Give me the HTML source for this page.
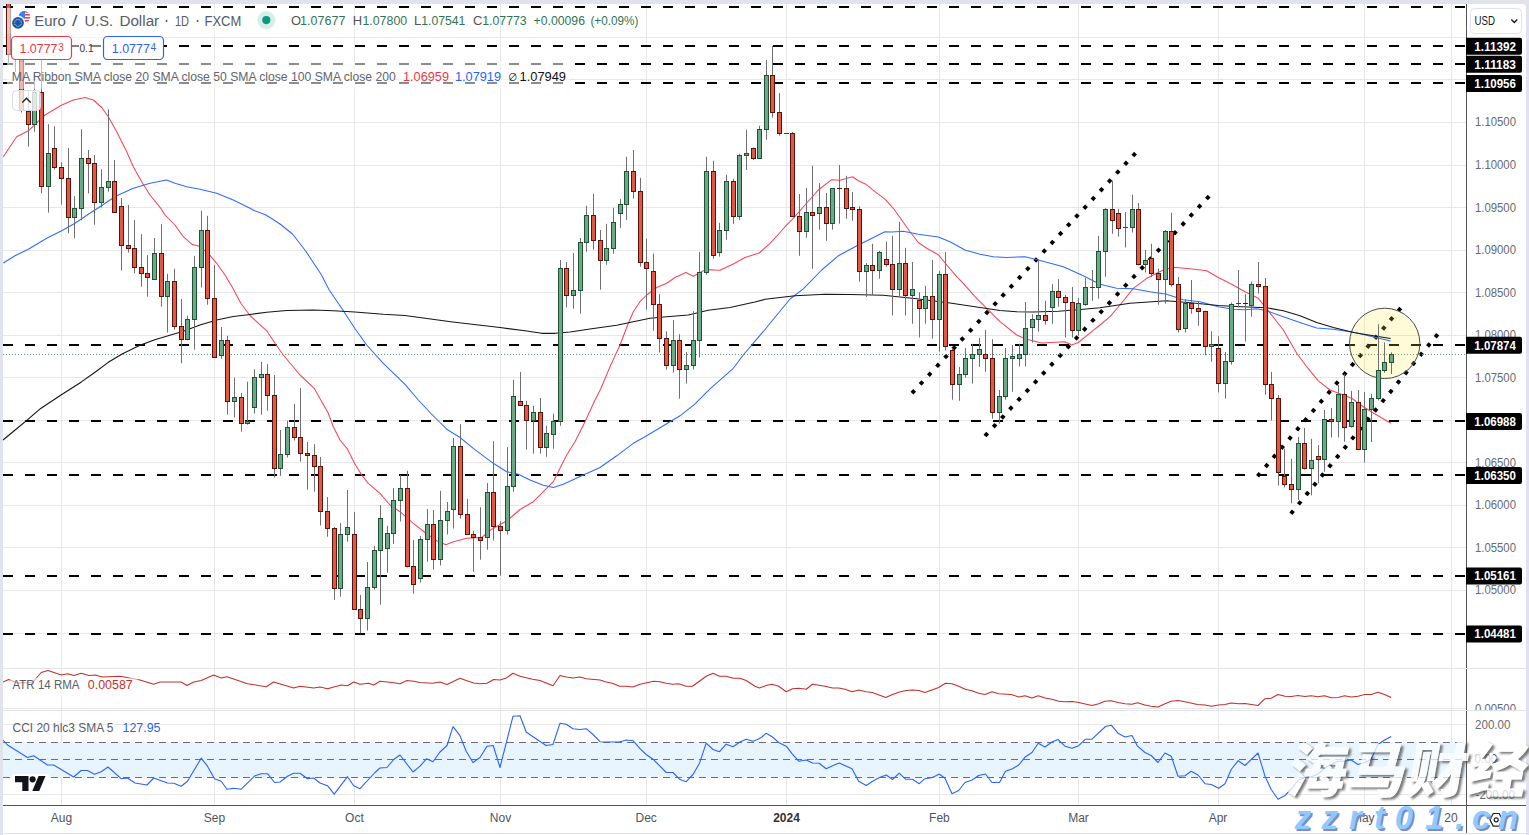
<!DOCTYPE html>
<html lang="en"><head><meta charset="utf-8"><title>EUR/USD Daily Chart</title>
<style>
html,body{margin:0;padding:0;background:#e0e3eb;}
body{width:1529px;height:835px;overflow:hidden;position:relative;font-family:"Liberation Sans","Noto Sans CJK SC",sans-serif;}
svg{position:absolute;left:0;top:0;display:block;}
text{font-family:"Liberation Sans","Noto Sans CJK SC",sans-serif;}
</style></head><body>
<svg width="1529" height="835" viewBox="0 0 1529 835">
<path d="M3 835V8a4 4 0 0 1 4 -4H1522a4 4 0 0 1 4 4V835Z" fill="#fff"/>
<defs><clipPath id="cp"><rect x="3" y="4" width="1463" height="801"/></clipPath>
<clipPath id="cpm"><rect x="3" y="4" width="1463" height="664"/></clipPath></defs>
<path d="M61.5 4V805M214.5 4V805M354.5 4V805M500.5 4V805M646.5 4V805M786.5 4V805M939.5 4V805M1078.5 4V805M1218.5 4V805M1364.5 4V805M1451.5 4V805M3 37.5H1466M3 79.5H1466M3 122.5H1466M3 165.5H1466M3 207.5H1466M3 250.5H1466M3 292.5H1466M3 335.5H1466M3 377.5H1466M3 420.5H1466M3 462.5H1466M3 505.5H1466M3 547.5H1466M3 590.5H1466M3 633.5H1466M3 724.5H1466M3 794.5H1466" stroke="#e7e7e8" stroke-width="1" fill="none"/>
<path d="M3 708.5H1466" stroke="#e7e7e8" stroke-width="1" fill="none"/>
<path d="M3 668.5H1526M3 710.5H1526" stroke="#e0e3eb" stroke-width="1" fill="none"/>
<rect x="3" y="742.5" width="1463" height="35" fill="#e8f4fe"/>
<path d="M3 742.5H1466 M3 759.5H1466 M3 777.5H1466" stroke="#6b6e76" stroke-width="1" stroke-dasharray="7 5" fill="none"/>
<g clip-path="url(#cp)">
<path d="M3 7H1466M3 46H1466M3 64H1466M3 83H1466M3 345H1466M3 421H1466M3 475H1466M3 576H1466M3 634H1466" stroke="#000" stroke-width="2.1" stroke-dasharray="10 12" fill="none"/>
<g fill="#000">
<rect x="911.3" y="389.8" width="3.9" height="3.9" transform="rotate(-47.0 913.3 391.7)"/><rect x="919.5" y="381.0" width="3.9" height="3.9" transform="rotate(-47.0 921.5 382.9)"/><rect x="927.7" y="372.2" width="3.9" height="3.9" transform="rotate(-47.0 929.7 374.1)"/><rect x="935.9" y="363.4" width="3.9" height="3.9" transform="rotate(-47.0 937.8 365.3)"/><rect x="944.1" y="354.6" width="3.9" height="3.9" transform="rotate(-47.0 946.0 356.6)"/><rect x="952.3" y="345.8" width="3.9" height="3.9" transform="rotate(-47.0 954.2 347.8)"/><rect x="960.4" y="337.0" width="3.9" height="3.9" transform="rotate(-47.0 962.4 339.0)"/><rect x="968.6" y="328.3" width="3.9" height="3.9" transform="rotate(-47.0 970.6 330.2)"/><rect x="976.8" y="319.5" width="3.9" height="3.9" transform="rotate(-47.0 978.8 321.4)"/><rect x="985.0" y="310.7" width="3.9" height="3.9" transform="rotate(-47.0 986.9 312.6)"/><rect x="993.2" y="301.9" width="3.9" height="3.9" transform="rotate(-47.0 995.1 303.8)"/><rect x="1001.3" y="293.1" width="3.9" height="3.9" transform="rotate(-47.0 1003.3 295.1)"/><rect x="1009.5" y="284.3" width="3.9" height="3.9" transform="rotate(-47.0 1011.5 286.3)"/><rect x="1017.7" y="275.5" width="3.9" height="3.9" transform="rotate(-47.0 1019.7 277.5)"/><rect x="1025.9" y="266.8" width="3.9" height="3.9" transform="rotate(-47.0 1027.8 268.7)"/><rect x="1034.1" y="258.0" width="3.9" height="3.9" transform="rotate(-47.0 1036.0 259.9)"/><rect x="1042.3" y="249.2" width="3.9" height="3.9" transform="rotate(-47.0 1044.2 251.1)"/><rect x="1050.4" y="240.4" width="3.9" height="3.9" transform="rotate(-47.0 1052.4 242.4)"/><rect x="1058.6" y="231.6" width="3.9" height="3.9" transform="rotate(-47.0 1060.6 233.6)"/><rect x="1066.8" y="222.8" width="3.9" height="3.9" transform="rotate(-47.0 1068.7 224.8)"/><rect x="1075.0" y="214.0" width="3.9" height="3.9" transform="rotate(-47.0 1076.9 216.0)"/><rect x="1083.2" y="205.3" width="3.9" height="3.9" transform="rotate(-47.0 1085.1 207.2)"/><rect x="1091.3" y="196.5" width="3.9" height="3.9" transform="rotate(-47.0 1093.3 198.4)"/><rect x="1099.5" y="187.7" width="3.9" height="3.9" transform="rotate(-47.0 1101.5 189.6)"/><rect x="1107.7" y="178.9" width="3.9" height="3.9" transform="rotate(-47.0 1109.7 180.9)"/><rect x="1115.9" y="170.1" width="3.9" height="3.9" transform="rotate(-47.0 1117.8 172.1)"/><rect x="1124.1" y="161.3" width="3.9" height="3.9" transform="rotate(-47.0 1126.0 163.3)"/><rect x="1132.2" y="152.6" width="3.9" height="3.9" transform="rotate(-47.0 1134.2 154.5)"/>
<rect x="984.3" y="432.6" width="3.9" height="3.9" transform="rotate(-46.9 986.3 434.5)"/><rect x="992.6" y="423.8" width="3.9" height="3.9" transform="rotate(-46.9 994.5 425.7)"/><rect x="1000.8" y="415.0" width="3.9" height="3.9" transform="rotate(-46.9 1002.7 416.9)"/><rect x="1009.0" y="406.2" width="3.9" height="3.9" transform="rotate(-46.9 1010.9 408.2)"/><rect x="1017.2" y="397.4" width="3.9" height="3.9" transform="rotate(-46.9 1019.1 399.4)"/><rect x="1025.4" y="388.7" width="3.9" height="3.9" transform="rotate(-46.9 1027.3 390.6)"/><rect x="1033.6" y="379.9" width="3.9" height="3.9" transform="rotate(-46.9 1035.5 381.8)"/><rect x="1041.8" y="371.1" width="3.9" height="3.9" transform="rotate(-46.9 1043.7 373.1)"/><rect x="1050.0" y="362.3" width="3.9" height="3.9" transform="rotate(-46.9 1051.9 364.3)"/><rect x="1058.2" y="353.6" width="3.9" height="3.9" transform="rotate(-46.9 1060.1 355.5)"/><rect x="1066.4" y="344.8" width="3.9" height="3.9" transform="rotate(-46.9 1068.3 346.7)"/><rect x="1074.6" y="336.0" width="3.9" height="3.9" transform="rotate(-46.9 1076.5 337.9)"/><rect x="1082.8" y="327.2" width="3.9" height="3.9" transform="rotate(-46.9 1084.7 329.2)"/><rect x="1091.0" y="318.4" width="3.9" height="3.9" transform="rotate(-46.9 1092.9 320.4)"/><rect x="1099.2" y="309.7" width="3.9" height="3.9" transform="rotate(-46.9 1101.2 311.6)"/><rect x="1107.4" y="300.9" width="3.9" height="3.9" transform="rotate(-46.9 1109.4 302.8)"/><rect x="1115.6" y="292.1" width="3.9" height="3.9" transform="rotate(-46.9 1117.6 294.1)"/><rect x="1123.8" y="283.3" width="3.9" height="3.9" transform="rotate(-46.9 1125.8 285.3)"/><rect x="1132.0" y="274.6" width="3.9" height="3.9" transform="rotate(-46.9 1134.0 276.5)"/><rect x="1140.2" y="265.8" width="3.9" height="3.9" transform="rotate(-46.9 1142.2 267.7)"/><rect x="1148.4" y="257.0" width="3.9" height="3.9" transform="rotate(-46.9 1150.4 258.9)"/><rect x="1156.6" y="248.2" width="3.9" height="3.9" transform="rotate(-46.9 1158.6 250.2)"/><rect x="1164.8" y="239.4" width="3.9" height="3.9" transform="rotate(-46.9 1166.8 241.4)"/><rect x="1173.0" y="230.7" width="3.9" height="3.9" transform="rotate(-46.9 1175.0 232.6)"/><rect x="1181.2" y="221.9" width="3.9" height="3.9" transform="rotate(-46.9 1183.2 223.8)"/><rect x="1189.4" y="213.1" width="3.9" height="3.9" transform="rotate(-46.9 1191.4 215.1)"/><rect x="1197.6" y="204.3" width="3.9" height="3.9" transform="rotate(-46.9 1199.6 206.3)"/><rect x="1205.8" y="195.6" width="3.9" height="3.9" transform="rotate(-46.9 1207.8 197.5)"/>
<rect x="1256.8" y="472.8" width="3.9" height="3.9" transform="rotate(-49.6 1258.8 474.7)"/><rect x="1264.7" y="463.6" width="3.9" height="3.9" transform="rotate(-49.6 1266.6 465.5)"/><rect x="1272.5" y="454.4" width="3.9" height="3.9" transform="rotate(-49.6 1274.4 456.4)"/><rect x="1280.3" y="445.2" width="3.9" height="3.9" transform="rotate(-49.6 1282.2 447.2)"/><rect x="1288.1" y="436.1" width="3.9" height="3.9" transform="rotate(-49.6 1290.0 438.0)"/><rect x="1295.9" y="426.9" width="3.9" height="3.9" transform="rotate(-49.6 1297.9 428.8)"/><rect x="1303.7" y="417.7" width="3.9" height="3.9" transform="rotate(-49.6 1305.7 419.7)"/><rect x="1311.5" y="408.5" width="3.9" height="3.9" transform="rotate(-49.6 1313.5 410.5)"/><rect x="1319.3" y="399.4" width="3.9" height="3.9" transform="rotate(-49.6 1321.3 401.3)"/><rect x="1327.1" y="390.2" width="3.9" height="3.9" transform="rotate(-49.6 1329.1 392.1)"/><rect x="1335.0" y="381.0" width="3.9" height="3.9" transform="rotate(-49.6 1336.9 383.0)"/><rect x="1342.8" y="371.9" width="3.9" height="3.9" transform="rotate(-49.6 1344.7 373.8)"/><rect x="1350.6" y="362.7" width="3.9" height="3.9" transform="rotate(-49.6 1352.5 364.6)"/><rect x="1358.4" y="353.5" width="3.9" height="3.9" transform="rotate(-49.6 1360.3 355.5)"/><rect x="1366.2" y="344.3" width="3.9" height="3.9" transform="rotate(-49.6 1368.2 346.3)"/><rect x="1374.0" y="335.2" width="3.9" height="3.9" transform="rotate(-49.6 1376.0 337.1)"/><rect x="1381.8" y="326.0" width="3.9" height="3.9" transform="rotate(-49.6 1383.8 327.9)"/><rect x="1389.6" y="316.8" width="3.9" height="3.9" transform="rotate(-49.6 1391.6 318.8)"/><rect x="1397.5" y="307.7" width="3.9" height="3.9" transform="rotate(-49.6 1399.4 309.6)"/>
<rect x="1290.1" y="510.2" width="3.9" height="3.9" transform="rotate(-50.7 1292.1 512.1)"/><rect x="1297.7" y="500.9" width="3.9" height="3.9" transform="rotate(-50.7 1299.7 502.8)"/><rect x="1305.3" y="491.6" width="3.9" height="3.9" transform="rotate(-50.7 1307.3 493.5)"/><rect x="1312.9" y="482.3" width="3.9" height="3.9" transform="rotate(-50.7 1314.9 484.2)"/><rect x="1320.5" y="473.0" width="3.9" height="3.9" transform="rotate(-50.7 1322.5 475.0)"/><rect x="1328.1" y="463.7" width="3.9" height="3.9" transform="rotate(-50.7 1330.1 465.7)"/><rect x="1335.7" y="454.4" width="3.9" height="3.9" transform="rotate(-50.7 1337.7 456.4)"/><rect x="1343.3" y="445.2" width="3.9" height="3.9" transform="rotate(-50.7 1345.3 447.1)"/><rect x="1350.9" y="435.9" width="3.9" height="3.9" transform="rotate(-50.7 1352.9 437.8)"/><rect x="1358.5" y="426.6" width="3.9" height="3.9" transform="rotate(-50.7 1360.5 428.5)"/><rect x="1366.1" y="417.3" width="3.9" height="3.9" transform="rotate(-50.7 1368.0 419.3)"/><rect x="1373.7" y="408.0" width="3.9" height="3.9" transform="rotate(-50.7 1375.6 410.0)"/><rect x="1381.3" y="398.7" width="3.9" height="3.9" transform="rotate(-50.7 1383.2 400.7)"/><rect x="1388.9" y="389.5" width="3.9" height="3.9" transform="rotate(-50.7 1390.8 391.4)"/><rect x="1396.5" y="380.2" width="3.9" height="3.9" transform="rotate(-50.7 1398.4 382.1)"/><rect x="1404.1" y="370.9" width="3.9" height="3.9" transform="rotate(-50.7 1406.0 372.8)"/><rect x="1411.7" y="361.6" width="3.9" height="3.9" transform="rotate(-50.7 1413.6 363.6)"/><rect x="1419.3" y="352.3" width="3.9" height="3.9" transform="rotate(-50.7 1421.2 354.3)"/><rect x="1426.9" y="343.0" width="3.9" height="3.9" transform="rotate(-50.7 1428.8 345.0)"/><rect x="1434.5" y="333.8" width="3.9" height="3.9" transform="rotate(-50.7 1436.4 335.7)"/>
</g>
<path d="M3 354.5H1466" stroke="#5d9c7b" stroke-width="1" stroke-dasharray="1 2" fill="none"/>
<circle cx="1384.7" cy="343.4" r="35.2" fill="rgba(255,235,59,0.2)" stroke="#4a4a4a" stroke-width="1"/>
<path d="M3.3 156.7L16.7 136.7L28.3 130.8L45.0 115.0L61.3 105.3L73.3 100.0L85.0 97.5L93.3 100.0L101.7 107.5L108.3 116.7L116.7 131.7L126.7 151.7L133.3 166.7L141.7 181.7L150.0 195.0L160.8 208.3L165.0 215.0L175.0 225.0L183.3 236.7L191.7 244.2L199.2 246.3L208.3 253.3L216.7 263.3L225.0 275.0L233.3 289.0L240.8 303.3L250.0 315.5L266.7 330.8L275.0 343.3L283.3 355.0L291.7 365.0L300.0 375.0L314.2 388.3L320.8 400.0L328.3 413.3L333.3 426.7L340.0 440.0L347.5 449.2L354.5 463.3L361.7 475.0L368.3 483.3L380.0 493.3L390.0 505.0L400.0 511.7L413.3 523.3L425.0 532.5L436.7 540.8L445.8 544.7L453.3 541.7L466.7 538.3L481.7 537.5L491.7 529.2L505.0 521.7L512.0 516.5L520.0 509.5L533.3 501.7L543.3 491.7L553.3 481.7L560.0 468.3L566.7 455.0L575.0 441.7L585.0 421.7L595.0 400.0L600.8 388.8L610.0 366.7L620.0 345.0L628.3 323.3L633.3 311.7L640.0 301.7L646.7 295.0L656.7 287.5L666.7 283.3L675.0 277.5L685.8 272.5L693.3 276.3L703.3 270.8L710.0 269.7L720.0 270.3L733.3 264.0L745.0 257.5L759.2 253.0L770.0 243.3L780.0 232.5L786.3 225.3L793.3 218.3L805.0 205.0L818.3 190.0L831.7 179.7L840.0 180.3L852.5 176.7L858.3 180.8L865.8 184.2L875.0 191.7L885.0 199.2L893.3 208.3L901.7 220.0L910.0 231.7L918.3 242.5L926.7 248.3L938.3 254.7L946.7 265.0L956.7 276.7L963.3 283.3L975.0 296.7L986.7 308.3L1000.0 321.7L1016.7 335.0L1026.7 339.2L1041.7 343.0L1065.0 341.7L1071.7 345.0L1078.3 342.5L1091.7 331.7L1100.0 325.0L1110.0 316.7L1120.0 305.0L1133.3 288.3L1146.7 278.3L1156.7 273.3L1163.3 270.0L1173.3 267.2L1190.0 268.7L1206.7 270.8L1218.3 277.5L1231.7 284.2L1245.0 291.7L1258.3 298.3L1268.3 310.8L1283.3 330.0L1296.7 353.3L1306.7 366.7L1318.3 380.8L1330.0 390.0L1343.3 395.0L1351.7 398.3L1363.3 406.7L1376.7 415.0L1390.8 423.3" stroke="#f5475a" stroke-width="1.05" fill="none" stroke-linejoin="round"/>
<path d="M3.3 263.0L15.0 255.8L28.3 249.2L46.7 238.3L61.7 230.8L75.0 223.3L88.3 214.2L100.0 206.7L110.0 200.0L116.7 195.8L133.3 188.3L150.0 183.3L166.7 180.0L175.0 183.3L186.7 186.7L200.0 189.2L216.7 193.3L233.3 200.0L250.0 208.3L254.0 210.5L266.0 215.0L280.0 224.0L292.5 234.0L305.7 251.0L321.5 275.0L329.2 290.0L341.7 308.3L354.7 328.3L366.7 345.0L383.3 363.3L404.8 384.2L418.3 400.0L430.0 412.5L440.0 422.5L446.7 429.2L460.0 437.5L473.3 448.3L493.3 463.3L506.7 471.7L518.3 474.2L530.0 480.0L543.3 485.3L553.3 487.5L563.3 484.2L583.3 475.0L600.0 467.5L616.7 455.8L633.3 443.3L646.7 435.8L663.3 425.8L680.0 415.8L694.8 404.2L710.0 388.8L733.3 368.3L743.3 355.0L754.8 341.3L765.0 329.5L790.0 299.0L803.3 288.8L821.7 270.0L838.3 255.8L855.0 246.7L870.0 239.2L885.0 231.7L891.7 232.0L903.3 231.2L918.3 234.2L938.3 237.0L950.0 241.7L965.0 250.0L980.0 254.2L993.3 256.7L1006.7 257.5L1025.0 256.7L1038.3 260.0L1063.3 266.7L1083.3 275.8L1100.0 284.2L1116.7 288.3L1133.3 288.7L1150.0 291.7L1166.7 294.2L1183.3 299.7L1200.0 301.7L1218.3 306.7L1233.3 309.2L1245.0 309.7L1256.7 308.8L1266.7 310.8L1283.3 316.7L1300.0 322.5L1316.7 328.0L1333.3 329.2L1354.8 332.5L1390.6 341.1" stroke="#2f6bff" stroke-width="1.05" fill="none" stroke-linejoin="round"/>
<path d="M3.0 440.0L14.2 430.7L26.5 420.6L40.7 408.4L61.0 395.1L81.4 381.9L95.7 371.7L107.9 362.6L122.1 354.0L138.4 345.9L154.7 339.8L169.0 335.5L183.3 331.3L200.0 325.0L216.7 320.0L233.3 316.5L250.0 314.5L266.7 312.2L286.7 310.5L313.3 310.0L333.3 310.8L354.7 312.0L383.3 314.3L404.8 315.5L452.7 322.0L500.0 327.5L525.0 330.8L541.7 333.3L555.0 333.3L570.0 332.0L591.7 328.7L616.7 325.3L633.3 321.7L650.0 318.3L666.7 316.7L688.3 315.0L708.3 310.3L730.0 307.5L754.8 302.0L765.0 299.3L795.0 295.8L825.4 294.3L850.0 294.5L883.3 295.3L916.7 298.7L950.0 303.0L983.3 308.0L1000.0 310.5L1016.7 311.7L1033.3 312.0L1058.3 311.3L1083.3 309.2L1100.0 307.8L1130.0 303.3L1166.7 300.8L1193.3 303.0L1218.3 305.5L1241.7 306.7L1266.7 307.8L1283.3 310.8L1300.0 315.8L1316.7 322.5L1333.3 327.5L1354.8 332.8L1390.6 338.5" stroke="#161616" stroke-width="1.15" fill="none" stroke-linejoin="round"/>
<path d="M8.5 -6.0V64.5M15.5 42.0V72.0M21.5 40.0V112.5M28.5 90.6V146.7M34.5 73.0V131.7M41.5 37.0V193.3M48.5 124.2V212.5M54.5 126.3V169.5M61.5 162.2V204.5M68.5 148.0V233.3M74.5 196.2V238.3M81.5 129.2V220.3M88.5 150.0V193.3M94.5 155.0V224.7M101.5 169.2V207.5M108.5 109.2V191.7M114.5 160.0V212.5M121.5 198.0V270.5M128.5 205.0V252.5M134.5 220.0V273.3M141.5 234.2V286.7M147.5 255.0V296.7M154.5 238.0V279.5M161.5 224.2V306.7M167.5 273.8V332.5M174.5 268.8V329.7M181.5 299.0V363.3M187.5 315.8V340.3M194.5 255.8V349.7M201.5 210.8V287.5M207.5 215.8V304.7M214.5 265.0V357.5M221.5 327.0V358.7M227.5 335.8V414.7M234.5 377.8V417.5M241.5 393.0V431.7M247.5 381.7V424.7M254.5 369.2V413.7M261.5 362.0V414.7M267.5 364.2V410.8M274.5 375.0V477.5M280.5 430.0V475.8M287.5 420.8V457.5M294.5 404.0V440.5M300.5 388.0V461.7M307.5 442.0V489.7M314.5 444.2V491.7M320.5 457.0V525.5M327.5 497.0V536.7M334.5 527.0V599.7M340.5 523.0V596.7M347.5 490.0V541.7M354.5 512.0V609.5M360.5 595.0V633.3M367.5 562.0V630.5M374.5 545.8V589.7M380.5 505.0V604.7M387.5 525.8V572.8M393.5 488.0V543.8M400.5 475.0V521.5M407.5 470.8V567.5M413.5 540.0V593.7M420.5 535.8V582.5M427.5 509.0V561.7M433.5 510.0V569.7M440.5 490.8V565.5M447.5 502.0V534.5M453.5 438.0V528.5M460.5 424.2V518.7M467.5 498.8V535.0M473.5 530.8V571.7M480.5 507.2V559.7M487.5 483.0V549.7M493.5 441.2V540.5M500.5 521.3V575.8M507.5 447.0V534.7M513.5 379.7V491.7M520.5 372.0V405.5M526.5 400.8V449.7M533.5 405.8V453.7M540.5 398.0V453.7M546.5 425.8V456.7M553.5 413.8V448.7M560.5 260.0V425.8M566.5 262.0V307.5M573.5 253.0V308.7M580.5 238.0V313.7M586.5 205.8V251.7M593.5 193.8V249.7M600.5 230.0V289.7M606.5 223.8V264.7M613.5 207.8V253.8M620.5 198.8V227.8M626.5 156.7V220.0M633.5 150.0V198.7M640.5 177.8V266.7M646.5 238.7V309.7M653.5 253.7V330.8M659.5 294.2V352.5M666.5 331.2V369.7M673.5 320.0V372.5M679.5 334.2V398.7M686.5 352.0V383.5M693.5 311.2V369.5M699.5 252.0V357.5M706.5 156.7V274.7M713.5 160.8V258.7M719.5 222.8V256.7M726.5 174.7V239.7M733.5 178.8V223.8M739.5 153.7V220.0M746.5 129.7V170.0M753.5 147.5V159.8M759.5 125.8V158.5M766.5 60.0V139.8M772.5 46.0V117.8M779.5 93.0V135.6M786.5 133.0V134.0M792.5 132.0V216.5M799.5 194.0V255.8M806.5 188.0V237.8M812.5 165.8V268.8M819.5 183.0V229.7M826.5 193.0V240.8M832.5 188.3V229.7M839.5 165.0V223.7M846.5 175.8V218.8M852.5 192.0V220.8M859.5 206.2V281.7M866.5 263.0V297.0M872.5 243.8V295.0M879.5 250.8V278.7M886.5 241.7V266.7M892.5 235.8V315.5M899.5 222.0V296.7M905.5 247.8V315.5M912.5 262.0V323.7M919.5 292.2V337.5M925.5 285.8V323.7M932.5 260.0V338.7M939.5 270.8V351.7M945.5 252.0V350.5M952.5 348.3V399.7M959.5 367.0V400.8M965.5 348.0V377.7M972.5 343.8V383.6M979.5 338.0V366.9M985.5 330.0V371.7M992.5 339.2V418.7M999.5 390.0V423.7M1005.5 348.0V399.7M1012.5 345.0V391.7M1019.5 343.8V366.5M1025.5 302.0V366.5M1032.5 314.2V342.5M1038.5 260.3V331.7M1045.5 300.8V324.7M1052.5 284.2V323.7M1058.5 279.2V306.7M1065.5 295.0V337.5M1072.5 287.0V337.5M1078.5 298.0V335.8M1085.5 278.0V305.8M1092.5 270.0V300.8M1098.5 235.8V298.7M1105.5 208.0V276.7M1112.5 180.8V233.8M1118.5 208.8V236.7M1125.5 212.0V247.5M1132.5 194.7V232.5M1138.5 203.0V265.3M1145.5 250.0V272.5M1151.5 243.8V277.0M1158.5 268.7V304.7M1165.5 230.0V303.7M1171.5 212.8V286.7M1178.5 277.0V332.5M1185.5 299.2V332.5M1191.5 280.0V313.7M1198.5 301.3V325.8M1205.5 310.8V355.3M1211.5 331.2V361.7M1218.5 336.2V392.5M1225.5 352.0V398.7M1231.5 302.5V364.7M1238.5 270.0V307.5M1245.5 294.2V341.7M1251.5 281.7V316.7M1258.5 262.0V293.7M1265.5 278.0V394.7M1271.5 372.0V420.5M1278.5 395.0V485.5M1284.5 448.7V487.5M1291.5 458.8V503.3M1298.5 437.0V500.0M1304.5 428.0V469.5M1311.5 438.8V495.3M1318.5 445.0V483.3M1324.5 410.0V471.7M1331.5 408.0V437.5M1338.5 385.0V437.5M1344.5 374.2V441.7M1351.5 390.8V427.5M1358.5 390.0V449.5M1364.5 392.0V462.5M1371.5 393.8V442.0M1378.5 324.2V400.4M1384.5 342.4V372.7M1391.5 352.3V373.8" stroke="#707074" stroke-width="1" fill="none"/>
<g fill="#6caa87" stroke="#1e5235" stroke-width="1"><rect x="32.5" y="92.5" width="4" height="32"/><rect x="46.5" y="153.5" width="4" height="33"/><rect x="72.5" y="208.5" width="4" height="9"/><rect x="79.5" y="158.5" width="4" height="50"/><rect x="99.5" y="187.5" width="4" height="15"/><rect x="106.5" y="181.5" width="4" height="6"/><rect x="152.5" y="253.5" width="4" height="26"/><rect x="165.5" y="281.5" width="4" height="15"/><rect x="185.5" y="319.5" width="4" height="20"/><rect x="192.5" y="267.5" width="4" height="52"/><rect x="199.5" y="230.5" width="4" height="37"/><rect x="219.5" y="340.5" width="4" height="15"/><rect x="232.5" y="397.5" width="4" height="4"/><rect x="245.5" y="421.5" width="4" height="2"/><rect x="252.5" y="377.5" width="4" height="30"/><rect x="259.5" y="374.5" width="4" height="3"/><rect x="278.5" y="454.5" width="4" height="14"/><rect x="285.5" y="427.5" width="4" height="27"/><rect x="338.5" y="534.5" width="4" height="54"/><rect x="345.5" y="527.5" width="4" height="7"/><rect x="365.5" y="587.5" width="4" height="31"/><rect x="372.5" y="550.5" width="4" height="37"/><rect x="378.5" y="518.5" width="4" height="32"/><rect x="385.5" y="533.5" width="4" height="15"/><rect x="391.5" y="500.5" width="4" height="33"/><rect x="398.5" y="488.5" width="4" height="12"/><rect x="418.5" y="539.5" width="4" height="39"/><rect x="425.5" y="524.5" width="4" height="15"/><rect x="438.5" y="520.5" width="4" height="39"/><rect x="445.5" y="511.5" width="4" height="9"/><rect x="451.5" y="446.5" width="4" height="63"/><rect x="485.5" y="492.5" width="4" height="45"/><rect x="505.5" y="486.5" width="4" height="44"/><rect x="511.5" y="396.5" width="4" height="90"/><rect x="531.5" y="412.5" width="4" height="8"/><rect x="544.5" y="433.5" width="4" height="14"/><rect x="551.5" y="421.5" width="4" height="13"/><rect x="558.5" y="268.5" width="4" height="153"/><rect x="571.5" y="290.5" width="4" height="5"/><rect x="578.5" y="242.5" width="4" height="48"/><rect x="584.5" y="215.5" width="4" height="27"/><rect x="604.5" y="248.5" width="4" height="12"/><rect x="611.5" y="222.5" width="4" height="26"/><rect x="618.5" y="204.5" width="4" height="9"/><rect x="624.5" y="171.5" width="4" height="33"/><rect x="671.5" y="340.5" width="4" height="25"/><rect x="684.5" y="365.5" width="4" height="4"/><rect x="691.5" y="340.5" width="4" height="25"/><rect x="697.5" y="272.5" width="4" height="68"/><rect x="704.5" y="171.5" width="4" height="101"/><rect x="717.5" y="230.5" width="4" height="22"/><rect x="724.5" y="181.5" width="4" height="49"/><rect x="737.5" y="155.5" width="4" height="61"/><rect x="744.5" y="153.5" width="4" height="2"/><rect x="757.5" y="129.5" width="4" height="29"/><rect x="764.5" y="75.5" width="4" height="54"/><rect x="804.5" y="212.5" width="4" height="19"/><rect x="817.5" y="207.5" width="4" height="6"/><rect x="830.5" y="188.5" width="4" height="35"/><rect x="864.5" y="265.5" width="4" height="6"/><rect x="877.5" y="252.5" width="4" height="18"/><rect x="897.5" y="263.5" width="4" height="26"/><rect x="910.5" y="289.5" width="4" height="6"/><rect x="923.5" y="296.5" width="4" height="12"/><rect x="937.5" y="274.5" width="4" height="45"/><rect x="957.5" y="374.5" width="4" height="10"/><rect x="963.5" y="358.5" width="4" height="16"/><rect x="970.5" y="354.5" width="4" height="4"/><rect x="977.5" y="349.5" width="4" height="5"/><rect x="997.5" y="396.5" width="4" height="16"/><rect x="1003.5" y="358.5" width="4" height="38"/><rect x="1010.5" y="356.5" width="4" height="2"/><rect x="1017.5" y="354.5" width="4" height="4"/><rect x="1023.5" y="328.5" width="4" height="26"/><rect x="1030.5" y="319.5" width="4" height="8"/><rect x="1036.5" y="315.5" width="4" height="4"/><rect x="1050.5" y="291.5" width="4" height="16"/><rect x="1076.5" y="303.5" width="4" height="27"/><rect x="1083.5" y="287.5" width="4" height="17"/><rect x="1096.5" y="251.5" width="4" height="36"/><rect x="1103.5" y="209.5" width="4" height="42"/><rect x="1130.5" y="209.5" width="4" height="18"/><rect x="1143.5" y="260.5" width="4" height="4"/><rect x="1163.5" y="231.5" width="4" height="48"/><rect x="1183.5" y="303.5" width="4" height="25"/><rect x="1209.5" y="344.5" width="4" height="2"/><rect x="1223.5" y="361.5" width="4" height="22"/><rect x="1229.5" y="304.5" width="4" height="57"/><rect x="1249.5" y="284.5" width="4" height="21"/><rect x="1296.5" y="443.5" width="4" height="46"/><rect x="1309.5" y="460.5" width="4" height="8"/><rect x="1322.5" y="419.5" width="4" height="40"/><rect x="1336.5" y="394.5" width="4" height="27"/><rect x="1349.5" y="402.5" width="4" height="24"/><rect x="1362.5" y="409.5" width="4" height="40"/><rect x="1369.5" y="398.5" width="4" height="11"/><rect x="1376.5" y="370.5" width="4" height="28"/><rect x="1382.5" y="362.5" width="4" height="8"/><rect x="1389.5" y="354.5" width="4" height="8"/></g>
<g fill="#e05846" stroke="#5c120b" stroke-width="1"><rect x="6.5" y="-5.5" width="4" height="60"/><rect x="13.5" y="55.5" width="4" height="3"/><rect x="19.5" y="59.5" width="4" height="51"/><rect x="26.5" y="111.5" width="4" height="13"/><rect x="39.5" y="92.5" width="4" height="94"/><rect x="52.5" y="148.5" width="4" height="19"/><rect x="59.5" y="167.5" width="4" height="11"/><rect x="66.5" y="178.5" width="4" height="39"/><rect x="86.5" y="158.5" width="4" height="5"/><rect x="92.5" y="163.5" width="4" height="39"/><rect x="112.5" y="181.5" width="4" height="31"/><rect x="119.5" y="206.5" width="4" height="39"/><rect x="126.5" y="245.5" width="4" height="3"/><rect x="132.5" y="248.5" width="4" height="19"/><rect x="139.5" y="267.5" width="4" height="6"/><rect x="145.5" y="273.5" width="4" height="4"/><rect x="159.5" y="253.5" width="4" height="43"/><rect x="172.5" y="281.5" width="4" height="45"/><rect x="179.5" y="326.5" width="4" height="13"/><rect x="205.5" y="230.5" width="4" height="68"/><rect x="212.5" y="298.5" width="4" height="59"/><rect x="225.5" y="340.5" width="4" height="61"/><rect x="239.5" y="397.5" width="4" height="26"/><rect x="265.5" y="374.5" width="4" height="21"/><rect x="272.5" y="395.5" width="4" height="73"/><rect x="292.5" y="427.5" width="4" height="10"/><rect x="298.5" y="437.5" width="4" height="16"/><rect x="305.5" y="453.5" width="4" height="2"/><rect x="312.5" y="455.5" width="4" height="11"/><rect x="318.5" y="466.5" width="4" height="45"/><rect x="325.5" y="511.5" width="4" height="17"/><rect x="332.5" y="528.5" width="4" height="60"/><rect x="352.5" y="534.5" width="4" height="75"/><rect x="358.5" y="609.5" width="4" height="9"/><rect x="405.5" y="488.5" width="4" height="78"/><rect x="411.5" y="566.5" width="4" height="18"/><rect x="431.5" y="524.5" width="4" height="35"/><rect x="458.5" y="446.5" width="4" height="68"/><rect x="465.5" y="514.5" width="4" height="20"/><rect x="471.5" y="534.5" width="4" height="3"/><rect x="478.5" y="537.5" width="4" height="3"/><rect x="491.5" y="492.5" width="4" height="34"/><rect x="498.5" y="526.5" width="4" height="4"/><rect x="518.5" y="401.5" width="4" height="4"/><rect x="524.5" y="405.5" width="4" height="15"/><rect x="538.5" y="412.5" width="4" height="35"/><rect x="564.5" y="268.5" width="4" height="27"/><rect x="591.5" y="215.5" width="4" height="25"/><rect x="598.5" y="240.5" width="4" height="20"/><rect x="631.5" y="171.5" width="4" height="20"/><rect x="638.5" y="191.5" width="4" height="71"/><rect x="644.5" y="262.5" width="4" height="6"/><rect x="651.5" y="271.5" width="4" height="33"/><rect x="657.5" y="304.5" width="4" height="34"/><rect x="664.5" y="338.5" width="4" height="27"/><rect x="677.5" y="340.5" width="4" height="29"/><rect x="711.5" y="171.5" width="4" height="84"/><rect x="731.5" y="181.5" width="4" height="35"/><rect x="751.5" y="148.5" width="4" height="10"/><rect x="770.5" y="75.5" width="4" height="37"/><rect x="777.5" y="112.5" width="4" height="21"/><rect x="790.5" y="133.5" width="4" height="83"/><rect x="797.5" y="216.5" width="4" height="15"/><rect x="810.5" y="212.5" width="4" height="3"/><rect x="824.5" y="207.5" width="4" height="16"/><rect x="844.5" y="188.5" width="4" height="20"/><rect x="850.5" y="207.5" width="4" height="2"/><rect x="857.5" y="209.5" width="4" height="62"/><rect x="870.5" y="265.5" width="4" height="5"/><rect x="884.5" y="259.5" width="4" height="5"/><rect x="890.5" y="264.5" width="4" height="25"/><rect x="903.5" y="263.5" width="4" height="32"/><rect x="917.5" y="300.5" width="4" height="8"/><rect x="930.5" y="296.5" width="4" height="23"/><rect x="943.5" y="274.5" width="4" height="72"/><rect x="950.5" y="350.5" width="4" height="34"/><rect x="983.5" y="354.5" width="4" height="4"/><rect x="990.5" y="358.5" width="4" height="54"/><rect x="1043.5" y="315.5" width="4" height="5"/><rect x="1056.5" y="291.5" width="4" height="6"/><rect x="1063.5" y="297.5" width="4" height="5"/><rect x="1070.5" y="302.5" width="4" height="28"/><rect x="1110.5" y="209.5" width="4" height="11"/><rect x="1116.5" y="213.5" width="4" height="15"/><rect x="1136.5" y="209.5" width="4" height="55"/><rect x="1149.5" y="258.5" width="4" height="15"/><rect x="1156.5" y="273.5" width="4" height="6"/><rect x="1169.5" y="231.5" width="4" height="53"/><rect x="1176.5" y="284.5" width="4" height="45"/><rect x="1189.5" y="303.5" width="4" height="5"/><rect x="1196.5" y="308.5" width="4" height="3"/><rect x="1203.5" y="311.5" width="4" height="35"/><rect x="1216.5" y="348.5" width="4" height="35"/><rect x="1256.5" y="284.5" width="4" height="2"/><rect x="1263.5" y="286.5" width="4" height="98"/><rect x="1269.5" y="384.5" width="4" height="14"/><rect x="1276.5" y="398.5" width="4" height="74"/><rect x="1282.5" y="476.5" width="4" height="8"/><rect x="1289.5" y="484.5" width="4" height="5"/><rect x="1302.5" y="443.5" width="4" height="25"/><rect x="1316.5" y="456.5" width="4" height="3"/><rect x="1329.5" y="419.5" width="4" height="2"/><rect x="1342.5" y="394.5" width="4" height="33"/><rect x="1356.5" y="402.5" width="4" height="47"/></g>
<path d="M784 133.5H789M1090 287.5H1095M1123 227.5H1128M1236 303.5H1241" stroke="#1e5235" stroke-width="1" fill="none"/>
<path d="M837 188.5H842M1243 303.5H1248" stroke="#5c120b" stroke-width="1" fill="none"/>
<path d="M3.0 682.0L8.7 679.5L17.5 683.0L32.5 682.5L41.2 672.5L48.0 670.5L61.2 675.0L67.5 673.7L73.7 675.5L81.2 673.2L88.7 675.5L95.0 675.0L102.5 677.0L120.0 676.2L140.0 680.0L153.7 684.2L160.0 682.0L181.2 682.0L187.0 685.5L193.7 682.0L201.2 680.5L213.7 675.0L221.2 678.0L227.0 676.7L247.5 683.7L266.2 686.7L273.7 682.0L293.7 688.0L300.0 686.2L313.7 688.0L320.0 687.0L327.5 688.7L341.2 685.0L347.5 685.7L353.7 682.0L360.0 684.2L368.7 683.2L373.7 685.0L380.0 681.2L392.5 682.5L400.0 683.7L407.0 680.5L413.7 681.2L420.0 682.5L432.5 683.2L440.0 682.0L447.0 684.5L460.0 678.2L466.2 680.5L473.7 683.0L480.0 683.7L487.0 683.2L493.7 679.5L500.0 680.0L506.2 678.0L513.0 673.2L520.0 676.2L532.5 679.2L540.0 680.5L553.0 685.7L560.0 675.5L566.2 677.0L573.0 678.0L580.0 677.0L586.2 678.7L600.0 680.0L606.2 682.0L612.5 683.2L619.5 686.2L626.2 686.2L633.0 687.0L640.0 684.2L653.7 681.2L660.0 681.7L666.2 683.2L672.5 684.2L678.7 683.7L686.2 686.2L692.5 686.2L706.2 676.2L713.0 673.2L719.5 676.2L726.2 676.2L733.0 678.2L740.0 678.2L746.2 680.5L755.0 686.2L759.5 688.0L762.0 687.0L766.2 685.5L772.0 684.2L778.7 686.2L786.2 691.7L792.5 688.7L798.7 688.2L806.2 689.2L812.5 684.2L825.0 686.2L832.5 688.0L838.7 688.0L845.0 689.2L852.0 691.7L858.7 690.0L866.2 691.7L872.5 692.5L885.7 697.5L892.5 694.5L899.5 692.0L906.2 690.5L912.5 690.0L918.7 690.5L925.0 692.5L938.7 687.5L945.5 683.2L952.0 683.7L958.7 686.2L965.0 689.2L972.0 690.7L978.7 693.2L985.0 694.5L992.0 691.7L998.7 693.7L1011.2 694.5L1018.7 697.0L1025.0 695.7L1032.0 698.0L1038.2 695.7L1045.0 698.0L1052.0 699.2L1058.7 701.2L1065.0 701.7L1072.5 701.5L1078.7 702.5L1092.0 705.5L1098.7 703.7L1105.0 701.2L1111.2 700.7L1118.0 702.5L1125.0 703.7L1132.0 704.2L1137.5 702.7L1145.0 705.0L1151.2 706.2L1158.0 707.0L1165.0 703.7L1171.2 701.2L1178.0 700.5L1185.0 701.7L1197.5 704.5L1205.0 705.0L1211.2 706.2L1218.7 705.0L1225.0 704.5L1231.2 703.0L1238.7 703.7L1245.0 703.5L1258.0 705.5L1265.0 698.7L1271.2 698.2L1278.0 694.5L1285.0 696.2L1291.2 696.5L1298.0 695.5L1305.0 696.5L1311.2 695.7L1318.0 696.7L1324.5 695.7L1331.2 697.7L1338.0 697.5L1344.5 695.7L1351.2 697.0L1358.0 696.2L1364.5 694.5L1371.2 694.5L1378.0 692.2L1384.5 694.5L1391.2 697.5" stroke="#c4302b" stroke-width="1.1" fill="none" stroke-linejoin="round"/>
<path d="M3.0 740.0L7.5 745.0L27.5 757.5L33.7 755.7L47.5 765.0L53.7 765.0L73.7 777.0L81.2 770.5L87.5 770.5L94.5 774.2L101.2 771.7L108.0 767.0L121.2 778.7L127.5 778.0L135.0 783.0L147.0 785.0L153.7 778.0L167.5 783.0L173.7 783.2L181.2 786.2L187.5 781.2L201.2 758.2L207.5 766.2L214.5 778.7L221.2 781.2L227.0 789.2L233.7 788.2L241.2 789.2L255.0 775.7L261.2 773.7L267.5 773.7L274.5 782.5L280.0 782.0L287.5 776.2L293.7 773.2L300.0 773.2L307.5 778.7L313.7 778.0L320.0 783.0L327.5 785.7L334.2 794.2L347.5 776.7L353.7 785.7L360.0 788.7L375.0 772.5L380.0 768.0L387.0 767.5L393.7 759.5L400.0 755.0L413.0 772.0L420.0 766.2L426.7 758.7L433.0 761.7L440.0 752.0L447.0 745.5L453.0 726.7L460.0 735.7L466.2 751.2L473.0 762.5L480.0 757.5L487.0 746.2L493.2 745.5L500.0 767.5L513.0 716.2L520.0 715.7L526.2 732.0L533.0 736.7L546.2 745.5L553.0 744.5L560.0 723.2L566.2 724.2L573.0 728.7L580.0 729.5L586.2 728.7L593.0 734.5L600.0 741.7L612.5 742.0L619.5 742.0L626.2 740.0L633.0 740.7L640.0 748.7L646.2 754.5L653.0 759.2L660.0 766.2L666.2 772.5L673.0 772.5L679.5 779.2L686.2 781.7L693.0 774.5L699.5 763.2L706.2 743.2L713.0 749.5L719.5 751.7L726.2 744.2L733.0 746.7L740.0 742.0L746.2 739.2L753.0 741.2L757.5 739.5L762.0 737.0L766.2 733.2L772.0 736.7L778.7 742.5L786.2 746.2L792.0 753.7L798.7 761.2L806.2 760.0L812.5 763.0L819.2 763.2L826.2 768.7L832.5 765.7L839.2 763.0L852.0 768.7L858.7 781.2L866.2 785.5L872.5 781.2L879.5 777.5L886.2 775.0L892.5 779.5L899.2 773.2L905.5 779.2L912.5 779.2L919.2 783.7L925.0 778.7L932.5 777.5L939.2 774.0L945.0 778.2L952.0 793.7L958.7 790.5L965.0 782.5L972.0 780.0L978.7 775.5L985.5 774.0L992.0 782.5L999.5 782.5L1005.5 771.2L1012.5 768.7L1018.7 765.0L1025.5 756.7L1032.0 752.5L1038.2 743.2L1045.0 747.0L1052.0 742.0L1058.0 739.5L1065.0 746.2L1072.0 748.2L1078.7 745.7L1085.5 739.2L1092.0 739.2L1105.5 726.5L1111.2 725.2L1118.0 733.2L1125.0 737.0L1132.0 735.5L1137.5 746.2L1145.0 752.5L1151.2 755.5L1158.0 762.5L1165.0 753.0L1171.2 756.2L1178.0 776.2L1185.0 775.7L1191.2 771.2L1198.0 775.0L1205.0 783.7L1211.2 784.5L1218.7 788.2L1225.0 783.7L1231.2 769.5L1238.2 760.7L1245.0 765.5L1258.0 753.0L1265.0 776.2L1271.2 789.5L1278.0 799.2L1285.0 795.5L1291.2 789.2L1298.0 780.5L1305.0 777.5L1311.2 776.7L1318.0 774.2L1324.5 768.0L1331.2 764.5L1338.0 761.2L1344.5 761.2L1351.2 760.0L1358.0 764.5L1364.5 762.5L1371.2 759.2L1378.0 744.5L1384.5 740.0L1391.2 736.5" stroke="#2962ff" stroke-width="1.1" fill="none" stroke-linejoin="round"/>
</g>
<rect x="7" y="8" width="240" height="26" fill="#fff" fill-opacity=".6"/>
<rect x="7" y="34" width="157" height="27.5" fill="#fff" fill-opacity=".5"/>
<rect x="7" y="61.5" width="563" height="27.5" fill="#fff" fill-opacity=".55"/>
<rect x="10" y="678" width="128" height="18" rx="3" fill="#fff" fill-opacity=".55"/>
<g>
<clipPath id="us"><circle cx="24.4" cy="16.8" r="5.9"/></clipPath>
<g clip-path="url(#us)"><rect x="18" y="10" width="13" height="14" fill="#fff"/>
<rect x="18" y="11" width="13" height="1.6" fill="#f0414f"/>
<rect x="18" y="14" width="13" height="1.6" fill="#f0414f"/>
<rect x="18" y="17" width="13" height="1.6" fill="#f0414f"/>
<rect x="18" y="20" width="13" height="1.6" fill="#f0414f"/>
<rect x="18" y="23" width="13" height="1.6" fill="#f0414f"/>
<rect x="18" y="10" width="7" height="8.5" fill="#3b82f0"/>
</g>
<circle cx="18" cy="22.8" r="7.2" fill="#fff"/>
<circle cx="18" cy="22.8" r="5.9" fill="#1457b8"/>
<circle cx="21.40" cy="22.80" r=".55" fill="#ffd84a"/>
<circle cx="20.94" cy="24.50" r=".55" fill="#ffd84a"/>
<circle cx="19.70" cy="25.74" r=".55" fill="#ffd84a"/>
<circle cx="18.00" cy="26.20" r=".55" fill="#ffd84a"/>
<circle cx="16.30" cy="25.74" r=".55" fill="#ffd84a"/>
<circle cx="15.06" cy="24.50" r=".55" fill="#ffd84a"/>
<circle cx="14.60" cy="22.80" r=".55" fill="#ffd84a"/>
<circle cx="15.06" cy="21.10" r=".55" fill="#ffd84a"/>
<circle cx="16.30" cy="19.86" r=".55" fill="#ffd84a"/>
<circle cx="18.00" cy="19.40" r=".55" fill="#ffd84a"/>
<circle cx="19.70" cy="19.86" r=".55" fill="#ffd84a"/>
<circle cx="20.94" cy="21.10" r=".55" fill="#ffd84a"/>
</g>
<text x="34.3" y="26" font-size="15.4" fill="#595c66" font-weight="normal" text-anchor="start" textLength="31.6" lengthAdjust="spacingAndGlyphs">Euro</text>
<text x="72.1" y="26" font-size="15.4" fill="#595c66" font-weight="normal" text-anchor="start" textLength="5.5" lengthAdjust="spacingAndGlyphs">/</text>
<text x="84.6" y="26" font-size="15.4" fill="#595c66" font-weight="normal" text-anchor="start" textLength="28.6" lengthAdjust="spacingAndGlyphs">U.S.</text>
<text x="119.4" y="26" font-size="15.4" fill="#595c66" font-weight="normal" text-anchor="start" textLength="39.8" lengthAdjust="spacingAndGlyphs">Dollar</text>
<text x="164.9" y="26" font-size="15.4" fill="#595c66" font-weight="bold" text-anchor="start" textLength="3.6" lengthAdjust="spacingAndGlyphs">·</text>
<text x="174.9" y="26" font-size="15.4" fill="#595c66" font-weight="normal" text-anchor="start" textLength="14.1" lengthAdjust="spacingAndGlyphs">1D</text>
<text x="196" y="26" font-size="15.4" fill="#595c66" font-weight="bold" text-anchor="start" textLength="3.6" lengthAdjust="spacingAndGlyphs">·</text>
<text x="204.5" y="26" font-size="15.4" fill="#595c66" font-weight="normal" text-anchor="start" textLength="36.8" lengthAdjust="spacingAndGlyphs">FXCM</text>
<circle cx="266.3" cy="20.1" r="9" fill="#d5eee9"/><circle cx="266.3" cy="20.1" r="4.1" fill="#0a9a82"/>
<text x="291" y="25" font-size="13" fill="#555" font-weight="normal" text-anchor="start">O</text>
<text x="300" y="25" font-size="13" fill="#2f7658" font-weight="normal" text-anchor="start" textLength="45.4" lengthAdjust="spacingAndGlyphs">1.07677</text>
<text x="352.8" y="25" font-size="13" fill="#555" font-weight="normal" text-anchor="start">H</text>
<text x="362.4" y="25" font-size="13" fill="#2f7658" font-weight="normal" text-anchor="start" textLength="44.8" lengthAdjust="spacingAndGlyphs">1.07800</text>
<text x="414" y="25" font-size="13" fill="#555" font-weight="normal" text-anchor="start">L</text>
<text x="421.2" y="25" font-size="13" fill="#2f7658" font-weight="normal" text-anchor="start" textLength="44.2" lengthAdjust="spacingAndGlyphs">1.07541</text>
<text x="473.1" y="25" font-size="13" fill="#555" font-weight="normal" text-anchor="start">C</text>
<text x="482.2" y="25" font-size="13" fill="#2f7658" font-weight="normal" text-anchor="start" textLength="44.5" lengthAdjust="spacingAndGlyphs">1.07773</text>
<text x="533.6" y="25" font-size="13" fill="#2f7658" font-weight="normal" text-anchor="start" textLength="51.4" lengthAdjust="spacingAndGlyphs">+0.00096</text>
<text x="590.4" y="25" font-size="13" fill="#2f7658" font-weight="normal" text-anchor="start" textLength="48" lengthAdjust="spacingAndGlyphs">(+0.09%)</text>
<rect x="11.5" y="36.5" width="60" height="23" rx="4" fill="#fff" stroke="#f23645" stroke-width="1.2"/>
<rect x="103.5" y="36.5" width="60" height="23" rx="4" fill="#fff" stroke="#2962ff" stroke-width="1.2"/>
<text x="19.5" y="52.8" font-size="13" fill="#f23645" textLength="38" lengthAdjust="spacingAndGlyphs">1.0777</text>
<text x="58.2" y="51.2" font-size="10" fill="#f23645">3</text>
<text x="111.8" y="52.8" font-size="13" fill="#2962ff" textLength="38" lengthAdjust="spacingAndGlyphs">1.0777</text>
<text x="150.5" y="51.2" font-size="10" fill="#2962ff">4</text>
<text x="79.5" y="52" font-size="11" fill="#333" font-weight="normal" text-anchor="start" textLength="14" lengthAdjust="spacingAndGlyphs">0.1</text>
<text x="11.8" y="81" font-size="13" fill="#62656e" font-weight="normal" text-anchor="start" textLength="384" lengthAdjust="spacingAndGlyphs">MA Ribbon SMA close 20 SMA close 50 SMA close 100 SMA close 200</text>
<text x="403" y="81" font-size="13" fill="#f23645" font-weight="normal" text-anchor="start" textLength="46" lengthAdjust="spacingAndGlyphs">1.06959</text>
<text x="455" y="81" font-size="13" fill="#2962ff" font-weight="normal" text-anchor="start" textLength="46" lengthAdjust="spacingAndGlyphs">1.07919</text>
<text x="507.8" y="80.6" font-size="10" fill="#333" font-weight="normal" text-anchor="start">∅</text>
<text x="519.5" y="81" font-size="13" fill="#111" font-weight="normal" text-anchor="start" textLength="46.5" lengthAdjust="spacingAndGlyphs">1.07949</text>
<rect x="12.5" y="90.5" width="28" height="20" rx="4" fill="#fff" fill-opacity=".78" stroke="#d9dce3" stroke-width="1"/>
<path d="M22.3 102.5L26.5 98.3L30.7 102.5" stroke="#222" stroke-width="1.4" fill="none"/>
<text x="12.5" y="689.3" font-size="12.5" fill="#5a5d66" font-weight="normal" text-anchor="start" textLength="67" lengthAdjust="spacingAndGlyphs">ATR 14 RMA</text>
<text x="87.8" y="689.3" font-size="12.5" fill="#c4302b" font-weight="normal" text-anchor="start" textLength="45" lengthAdjust="spacingAndGlyphs">0.00587</text>
<text x="12.5" y="731.5" font-size="12.5" fill="#5a5d66" font-weight="normal" text-anchor="start" textLength="101" lengthAdjust="spacingAndGlyphs">CCI 20 hlc3 SMA 5</text>
<text x="122.6" y="731.5" font-size="12.5" fill="#2962ff" font-weight="normal" text-anchor="start" textLength="37.8" lengthAdjust="spacingAndGlyphs">127.95</text>
<rect x="12" y="774" width="36.5" height="19.5" fill="#fff"/>
<g fill="#10131c"><path d="M15 776H28.5V791H22.3V782.3H15Z"/><circle cx="32.6" cy="779.3" r="3.1"/><path d="M38.6 776H45.5L39.2 791H32.3Z"/></g>
<path d="M1467 833V4H1522a4 4 0 0 1 4 4V833Z" fill="#fff"/>
<path d="M1466.5 4V833" stroke="#555" stroke-width="1" fill="none"/>
<path d="M3 833.5H1526" stroke="#e0e3eb" stroke-width="1" fill="none"/>
<path d="M3 805.5H1526" stroke="#555" stroke-width="1" fill="none"/>
<path d="M1466 668.5H1526M1466 710.5H1526" stroke="#e0e3eb" stroke-width="1" fill="none"/>
<text x="1475" y="126.4" font-size="12" fill="#666a73" font-weight="normal" text-anchor="start" textLength="41" lengthAdjust="spacingAndGlyphs">1.10500</text>
<text x="1475" y="168.95" font-size="12" fill="#666a73" font-weight="normal" text-anchor="start" textLength="41" lengthAdjust="spacingAndGlyphs">1.10000</text>
<text x="1475" y="211.5" font-size="12" fill="#666a73" font-weight="normal" text-anchor="start" textLength="41" lengthAdjust="spacingAndGlyphs">1.09500</text>
<text x="1475" y="254.05" font-size="12" fill="#666a73" font-weight="normal" text-anchor="start" textLength="41" lengthAdjust="spacingAndGlyphs">1.09000</text>
<text x="1475" y="296.6" font-size="12" fill="#666a73" font-weight="normal" text-anchor="start" textLength="41" lengthAdjust="spacingAndGlyphs">1.08500</text>
<text x="1475" y="339.15" font-size="12" fill="#666a73" font-weight="normal" text-anchor="start" textLength="41" lengthAdjust="spacingAndGlyphs">1.08000</text>
<text x="1475" y="381.7" font-size="12" fill="#666a73" font-weight="normal" text-anchor="start" textLength="41" lengthAdjust="spacingAndGlyphs">1.07500</text>
<text x="1475" y="424.25" font-size="12" fill="#666a73" font-weight="normal" text-anchor="start" textLength="41" lengthAdjust="spacingAndGlyphs">1.07000</text>
<text x="1475" y="466.8" font-size="12" fill="#666a73" font-weight="normal" text-anchor="start" textLength="41" lengthAdjust="spacingAndGlyphs">1.06500</text>
<text x="1475" y="509.35" font-size="12" fill="#666a73" font-weight="normal" text-anchor="start" textLength="41" lengthAdjust="spacingAndGlyphs">1.06000</text>
<text x="1475" y="551.9" font-size="12" fill="#666a73" font-weight="normal" text-anchor="start" textLength="41" lengthAdjust="spacingAndGlyphs">1.05500</text>
<text x="1475" y="594.45" font-size="12" fill="#666a73" font-weight="normal" text-anchor="start" textLength="41" lengthAdjust="spacingAndGlyphs">1.05000</text>
<clipPath id="atrc"><rect x="1467" y="669" width="59" height="41"/></clipPath>
<g clip-path="url(#atrc)">
<text x="1475" y="712.5" font-size="12" fill="#666a73" font-weight="normal" text-anchor="start" textLength="41" lengthAdjust="spacingAndGlyphs">0.00500</text>
</g>
<text x="1475" y="728.8" font-size="12" fill="#666a73" font-weight="normal" text-anchor="start" textLength="35.5" lengthAdjust="spacingAndGlyphs">200.00</text>
<text x="1474.5" y="763.4" font-size="12" fill="#666a73" font-weight="normal" text-anchor="start" textLength="22.7" lengthAdjust="spacingAndGlyphs">0.00</text>
<text x="1475.5" y="798.6" font-size="12" fill="#666a73" font-weight="normal" text-anchor="start" textLength="39.5" lengthAdjust="spacingAndGlyphs">-200.00</text>
<path d="M1466 37.8H1520a2 2 0 0 1 2 2V52.8a2 2 0 0 1 -2 2H1466Z" fill="#000"/>
<text x="1474.3" y="50.7" font-size="12" fill="#fff" font-weight="bold" text-anchor="start" textLength="41.6" lengthAdjust="spacingAndGlyphs">1.11392</text>
<path d="M1466 55.7H1520a2 2 0 0 1 2 2V70.7a2 2 0 0 1 -2 2H1466Z" fill="#000"/>
<text x="1474.3" y="68.6" font-size="12" fill="#fff" font-weight="bold" text-anchor="start" textLength="41.6" lengthAdjust="spacingAndGlyphs">1.11183</text>
<path d="M1466 74.9H1520a2 2 0 0 1 2 2V89.9a2 2 0 0 1 -2 2H1466Z" fill="#000"/>
<text x="1474.3" y="87.8" font-size="12" fill="#fff" font-weight="bold" text-anchor="start" textLength="41.6" lengthAdjust="spacingAndGlyphs">1.10956</text>
<path d="M1466 336.8H1520a2 2 0 0 1 2 2V351.8a2 2 0 0 1 -2 2H1466Z" fill="#000"/>
<text x="1474.3" y="349.7" font-size="12" fill="#fff" font-weight="bold" text-anchor="start" textLength="41.6" lengthAdjust="spacingAndGlyphs">1.07874</text>
<path d="M1466 413.1H1520a2 2 0 0 1 2 2V428.1a2 2 0 0 1 -2 2H1466Z" fill="#000"/>
<text x="1474.3" y="426" font-size="12" fill="#fff" font-weight="bold" text-anchor="start" textLength="41.6" lengthAdjust="spacingAndGlyphs">1.06988</text>
<path d="M1466 467H1520a2 2 0 0 1 2 2V482a2 2 0 0 1 -2 2H1466Z" fill="#000"/>
<text x="1474.3" y="479.9" font-size="12" fill="#fff" font-weight="bold" text-anchor="start" textLength="41.6" lengthAdjust="spacingAndGlyphs">1.06350</text>
<path d="M1466 567.5H1520a2 2 0 0 1 2 2V582.5a2 2 0 0 1 -2 2H1466Z" fill="#000"/>
<text x="1474.3" y="580.4" font-size="12" fill="#fff" font-weight="bold" text-anchor="start" textLength="41.6" lengthAdjust="spacingAndGlyphs">1.05161</text>
<path d="M1466 625.5H1520a2 2 0 0 1 2 2V640.5a2 2 0 0 1 -2 2H1466Z" fill="#000"/>
<text x="1474.3" y="638.4" font-size="12" fill="#fff" font-weight="bold" text-anchor="start" textLength="41.6" lengthAdjust="spacingAndGlyphs">1.04481</text>
<rect x="1470.5" y="8.5" width="51" height="25" rx="4" fill="#fff" stroke="#e0e3eb" stroke-width="1"/>
<text x="1474.5" y="25.2" font-size="12" fill="#131722" font-weight="normal" text-anchor="start" textLength="20.5" lengthAdjust="spacingAndGlyphs">USD</text>
<path d="M1511.3 19.5L1514.3 22.5L1517.3 19.5" stroke="#131722" stroke-width="1.3" fill="none"/>
<text x="61.4" y="822.4" font-size="12" fill="#50535e" font-weight="normal" text-anchor="middle">Aug</text>
<text x="214.4" y="822.4" font-size="12" fill="#50535e" font-weight="normal" text-anchor="middle">Sep</text>
<text x="354.4" y="822.4" font-size="12" fill="#50535e" font-weight="normal" text-anchor="middle">Oct</text>
<text x="500.5" y="822.4" font-size="12" fill="#50535e" font-weight="normal" text-anchor="middle">Nov</text>
<text x="646.2" y="822.4" font-size="12" fill="#50535e" font-weight="normal" text-anchor="middle">Dec</text>
<text x="786.5" y="822.4" font-size="12" fill="#333" font-weight="bold" text-anchor="middle">2024</text>
<text x="939.4" y="822.4" font-size="12" fill="#50535e" font-weight="normal" text-anchor="middle">Feb</text>
<text x="1078.5" y="822.4" font-size="12" fill="#50535e" font-weight="normal" text-anchor="middle">Mar</text>
<text x="1218" y="822.4" font-size="12" fill="#50535e" font-weight="normal" text-anchor="middle">Apr</text>
<text x="1363.3" y="822.4" font-size="12" fill="#50535e" font-weight="normal" text-anchor="middle">May</text>
<text x="1451" y="822.4" font-size="12" fill="#50535e" font-weight="normal" text-anchor="middle">20</text>
<g stroke="#222" stroke-width="1.2" fill="none"><path d="M1493.2 813.5H1499.2L1502.4 819.8L1499.2 826.1H1493.2L1490 819.8Z"/><circle cx="1496.2" cy="819.8" r="2"/></g>
<defs><mask id="wmm" maskUnits="userSpaceOnUse" x="1250" y="720" width="300" height="100"><rect x="1250" y="720" width="300" height="100" fill="#fff"/><text x="0" y="0" transform="translate(1284.5 791.8) skewX(-10)" font-size="59.5" font-weight="900" letter-spacing="0.6" style="font-family:'Liberation Sans','Noto Sans CJK SC',sans-serif" fill="#000">海马财经</text></mask>
<filter id="wmb" x="-5%" y="-10%" width="110%" height="130%"><feGaussianBlur stdDeviation="1.0"/></filter></defs>
<g mask="url(#wmm)"><g transform="translate(2.6 2.6)" filter="url(#wmb)"><text x="0" y="0" transform="translate(1284.5 791.8) skewX(-10)" font-size="59.5" font-weight="900" letter-spacing="0.6" style="font-family:'Liberation Sans','Noto Sans CJK SC',sans-serif" fill="#484848" fill-opacity=".72">海马财经</text></g></g>
<text x="0" y="0" transform="translate(1284.5 791.8) skewX(-10)" font-size="59.5" font-weight="900" letter-spacing="0.6" style="font-family:'Liberation Sans','Noto Sans CJK SC',sans-serif" fill="#fff" fill-opacity=".74">海马财经</text>
<text x="1294.7 1321.5 1349.0 1374.0 1394.8 1425.0 1455.0 1472.0 1498.0" y="829.3" transform="translate(1.8 2)" font-size="33" font-weight="bold" font-style="italic" fill="#7f8bcc">zzrt01.cn</text>
<text x="1294.7 1321.5 1349 1374 1394.8 1425 1455 1472 1498" y="829.3" font-size="33" font-weight="bold" font-style="italic" fill="#8fcaff">zzrt01.cn</text>
</svg>
</body></html>
